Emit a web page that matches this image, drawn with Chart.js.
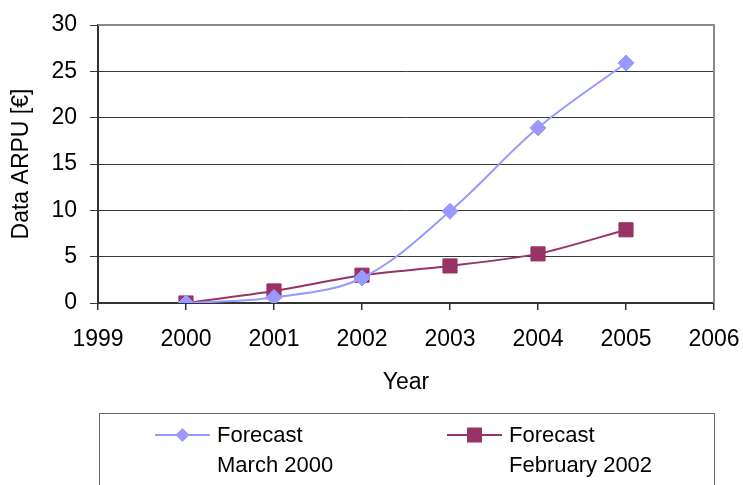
<!DOCTYPE html>
<html>
<head>
<meta charset="utf-8">
<title>Data ARPU forecasts</title>
<script src="https://cdn.jsdelivr.net/npm/chart.js@4.4.1/dist/chart.umd.min.js"></script>
<style>
  html, body { margin: 0; padding: 0; background: #ffffff; }
  #wrap { position: relative; width: 743px; height: 485px; }
</style>
</head>
<body>
<div id="wrap"><canvas id="chart" width="743" height="485"></canvas></div>
<script>
// Forecast years and data ARPU values (EUR)
const years = [2000, 2001, 2002, 2003, 2004, 2005];
const forecastMarch2000 = [0, 0.6, 2.7, 9.9, 18.9, 25.9];
const forecastFebruary2002 = [0, 1.3, 3.0, 4.0, 5.3, 7.9];

const seriesLabels = [['Forecast', 'March 2000'], ['Forecast', 'February 2002']];
const yTicks = [0, 5, 10, 15, 20, 25, 30];
const xRange = [1999, 2006];

const FONT = 'Liberation Sans, Arial, sans-serif';
const BLUE = '#9999FF';
const PLUM = '#993366';

const toPoints = (vals) => years.map((yr, i) => ({ x: yr, y: vals[i] }));

// Frame on the top and right sides of the plot area, plus the boxed legend below
const framePlugin = {
  id: 'frame',
  beforeDatasetsDraw(chart) {
    const { ctx, chartArea: a } = chart;
    ctx.save();
    ctx.strokeStyle = '#8a8a8a';
    ctx.lineWidth = 2;
    ctx.beginPath();
    ctx.moveTo(a.left, a.top);
    ctx.lineTo(a.right, a.top);
    ctx.lineTo(a.right, a.bottom);
    ctx.stroke();
    ctx.restore();
  },
  afterDraw(chart) {
    const { ctx } = chart;
    ctx.save();
    ctx.strokeStyle = '#666666';
    ctx.lineWidth = 1;
    ctx.strokeRect(99.5, 413.5, 615, 120);

    const items = [
      { x0: 155, x1: 210, textX: 217 },
      { x0: 447, x1: 502, textX: 509 }
    ];
    const rowY = 435;
    chart.data.datasets.forEach((ds, i) => {
      const it = items[i];
      const cx = (it.x0 + it.x1) / 2;
      ctx.strokeStyle = ds.borderColor;
      ctx.lineWidth = 2;
      ctx.beginPath();
      ctx.moveTo(it.x0, rowY);
      ctx.lineTo(it.x1, rowY);
      ctx.stroke();
      ctx.fillStyle = ds.pointBackgroundColor;
      ctx.beginPath();
      if (ds.pointStyle === 'rectRot') {
        const r = 7;
        ctx.moveTo(cx, rowY - r);
        ctx.lineTo(cx + r, rowY);
        ctx.lineTo(cx, rowY + r);
        ctx.lineTo(cx - r, rowY);
        ctx.closePath();
      } else {
        ctx.rect(cx - 7.5, rowY - 7.5, 15, 15);
      }
      ctx.fill();

      ctx.fillStyle = '#000000';
      ctx.font = '22px ' + FONT;
      ctx.textAlign = 'left';
      ctx.textBaseline = 'alphabetic';
      const lines = ds.label;
      lines.forEach((ln, k) => ctx.fillText(ln, it.textX, 442 + k * 30));
    });
    ctx.restore();
  }
};

new Chart(document.getElementById('chart'), {
  type: 'line',
  data: {
    datasets: [
      {
        label: seriesLabels[0],
        data: toPoints(forecastMarch2000),
        borderColor: BLUE,
        backgroundColor: BLUE,
        pointBackgroundColor: BLUE,
        pointBorderColor: BLUE,
        pointStyle: 'rectRot',
        pointRadius: 8,
        pointBorderWidth: 1,
        borderWidth: 2,
        tension: 0.35,
        fill: false
      },
      {
        label: seriesLabels[1],
        data: toPoints(forecastFebruary2002),
        borderColor: PLUM,
        backgroundColor: PLUM,
        pointBackgroundColor: PLUM,
        pointBorderColor: PLUM,
        pointStyle: 'rect',
        pointRadius: 10,
        pointBorderWidth: 1,
        borderWidth: 2,
        tension: 0.25,
        fill: false
      }
    ]
  },
  options: {
    responsive: false,
    animation: false,
    layout: { padding: { left: 0, right: 29, top: 25, bottom: 82 } },
    plugins: {
      legend: { display: false },
      tooltip: { enabled: false }
    },
    scales: {
      x: {
        type: 'linear',
        min: xRange[0],
        max: xRange[1],
        afterFit(scale) {
          scale.height = 100;
          scale.paddingLeft = 0;
          scale.paddingRight = 0;
        },
        afterBuildTicks(scale) {
          const t = [];
          for (let v = xRange[0]; v <= xRange[1]; v++) t.push({ value: v });
          scale.ticks = t;
        },
        ticks: {
          color: '#000000',
          font: { family: FONT, size: 23 },
          padding: 16,
          maxRotation: 0,
          autoSkip: false,
          callback: (v) => String(v)
        },
        grid: {
          drawOnChartArea: false,
          drawTicks: true,
          tickLength: 7,
          color: '#333333',
          lineWidth: 1.5
        },
        border: { display: true, color: '#333333', width: 2 },
        title: {
          display: true,
          text: 'Year',
          color: '#000000',
          font: { family: FONT, size: 23 },
          padding: { top: 0, bottom: 7 }
        }
      },
      y: {
        min: 0,
        max: 30,
        afterFit(scale) {
          scale.width = 98;
          scale.paddingTop = 0;
          scale.paddingBottom = 0;
        },
        afterBuildTicks(scale) { scale.ticks = yTicks.map((v) => ({ value: v })); },
        ticks: {
          color: '#000000',
          font: { family: FONT, size: 23 },
          padding: 13
        },
        grid: {
          color: '#3a3a3a',
          lineWidth: 1,
          drawTicks: true,
          tickLength: 8
        },
        border: { display: true, color: '#333333', width: 2 },
        title: {
          display: true,
          text: 'Data ARPU [€]',
          color: '#000000',
          font: { family: FONT, size: 23 },
          padding: { top: 8, bottom: 0 }
        }
      }
    }
  },
  plugins: [framePlugin]
});
</script>
</body>
</html>
